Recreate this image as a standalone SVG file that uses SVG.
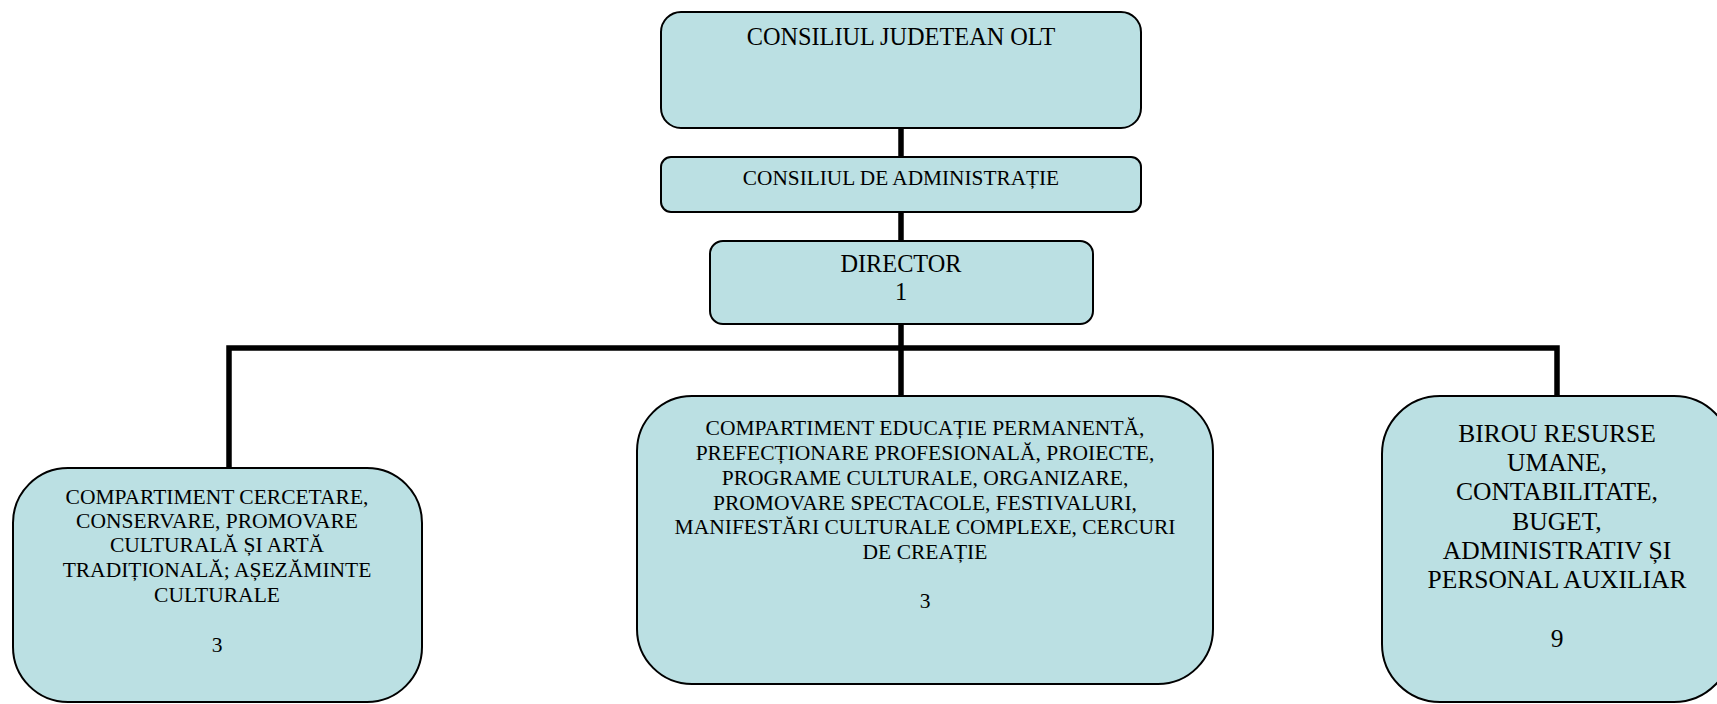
<svg xmlns="http://www.w3.org/2000/svg" width="1717" height="704" viewBox="0 0 1717 704">
<style>
.box{fill:#BBE0E3;stroke:#000;stroke-width:2}
.con{stroke:#000;stroke-width:5.5;fill:none}
text{font-family:"Liberation Serif","Times New Roman",serif;fill:#000;text-anchor:middle}
.t24{font-size:24.3px}
.t20{font-size:21.3px}
.t21{font-size:21.5px}
.t25{font-size:25.5px}
</style>
<rect width="1717" height="704" fill="#fff"/>
<g id="connectors">
<line class="con" x1="901" y1="128" x2="901" y2="157"/>
<line class="con" x1="901" y1="212" x2="901" y2="241"/>
<line class="con" x1="901" y1="324" x2="901" y2="396"/>
<polyline class="con" points="229,468 229,348 1557,348 1557,396"/>
</g>
<g id="node-consiliul-judetean">
<rect class="box" x="661" y="12" width="480" height="116" rx="20"/>
<text class="t24" x="901" y="45">CONSILIUL JUDETEAN OLT</text>
</g>
<g id="node-consiliul-administratie">
<rect class="box" x="661" y="157" width="480" height="55" rx="10"/>
<text class="t20" x="901" y="185">CONSILIUL DE ADMINISTRAȚIE</text>
</g>
<g id="node-director">
<rect class="box" x="710" y="241" width="383" height="83" rx="13"/>
<text class="t24" x="901" y="272">DIRECTOR</text>
<text class="t24" x="901" y="300">1</text>
</g>
<g id="node-cercetare">
<rect class="box" x="13" y="468" width="409" height="234" rx="55"/>
<text class="t21" x="217" y="504">COMPARTIMENT CERCETARE,</text>
<text class="t21" x="217" y="528">CONSERVARE, PROMOVARE</text>
<text class="t21" x="217" y="552">CULTURALĂ ȘI ARTĂ</text>
<text class="t21" x="217" y="577">TRADIȚIONALĂ; AȘEZĂMINTE</text>
<text class="t21" x="217" y="602">CULTURALE</text>
<text class="t21" x="217" y="652">3</text>
</g>
<g id="node-educatie">
<rect class="box" x="637" y="396" width="576" height="288" rx="55"/>
<text class="t21" x="925" y="435">COMPARTIMENT EDUCAȚIE PERMANENTĂ,</text>
<text class="t21" x="925" y="460">PREFECȚIONARE PROFESIONALĂ, PROIECTE,</text>
<text class="t21" x="925" y="485">PROGRAME CULTURALE, ORGANIZARE,</text>
<text class="t21" x="925" y="510">PROMOVARE SPECTACOLE, FESTIVALURI,</text>
<text class="t21" x="925" y="534">MANIFESTĂRI CULTURALE COMPLEXE, CERCURI</text>
<text class="t21" x="925" y="559">DE CREAȚIE</text>
<text class="t21" x="925" y="608">3</text>
</g>
<g id="node-birou">
<rect class="box" x="1382" y="396" width="350" height="306" rx="58"/>
<text class="t25" x="1557" y="442">BIROU RESURSE</text>
<text class="t25" x="1557" y="471">UMANE,</text>
<text class="t25" x="1557" y="500">CONTABILITATE,</text>
<text class="t25" x="1557" y="530">BUGET,</text>
<text class="t25" x="1557" y="559">ADMINISTRATIV ȘI</text>
<text class="t25" x="1557" y="588">PERSONAL AUXILIAR</text>
<text class="t25" x="1557" y="647">9</text>
</g>
</svg>
